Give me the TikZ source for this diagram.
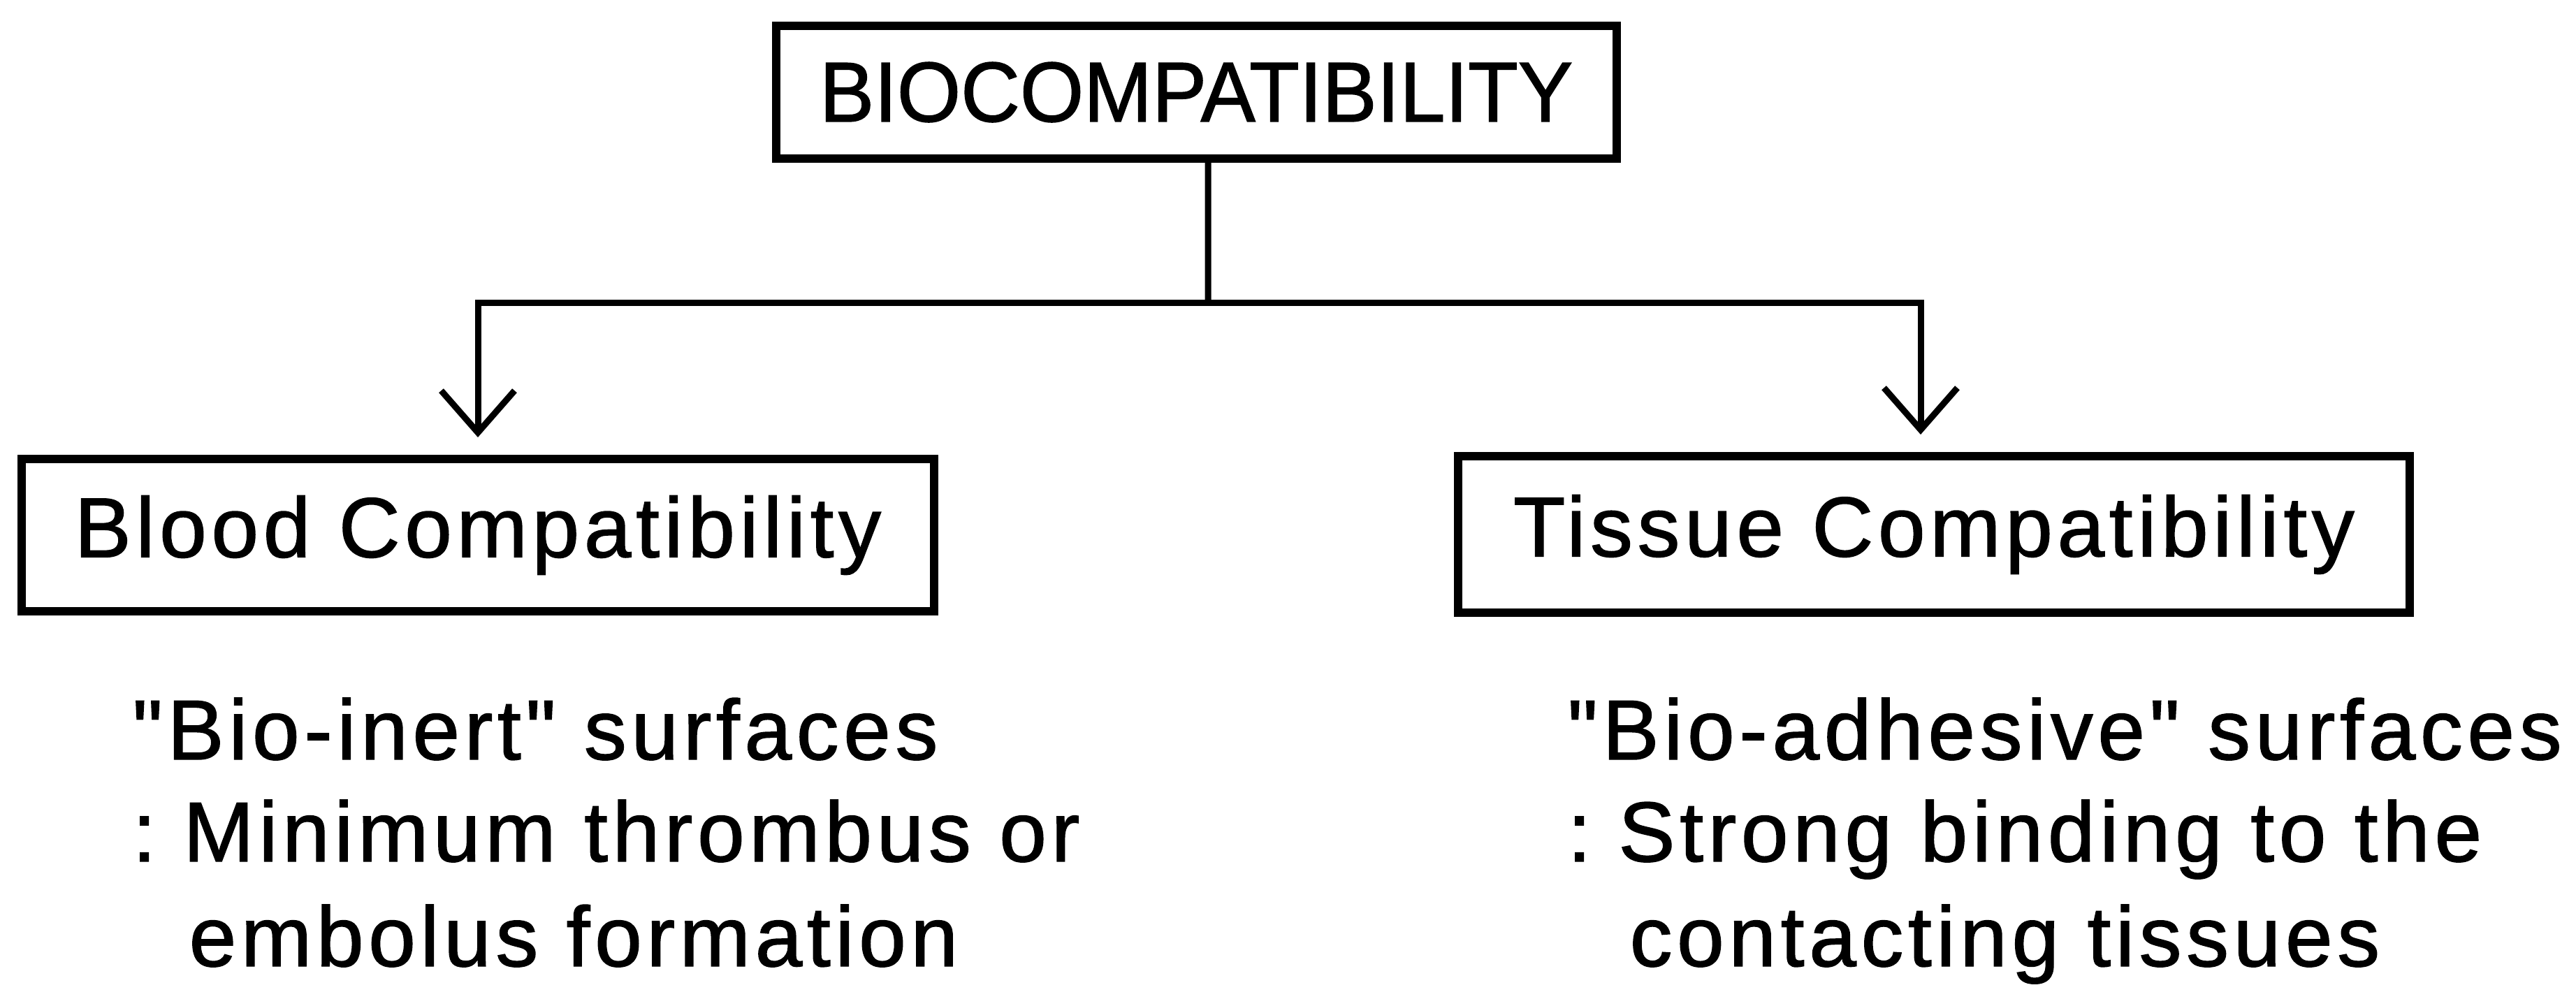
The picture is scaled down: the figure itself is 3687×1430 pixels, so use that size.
\documentclass[tikz,border=0pt]{standalone}
\usepackage{fontspec}
\setmainfont{Liberation Sans}
\newfontfamily\capsfont[FakeStretch=0.965,FakeBold=1.2]{Liberation Sans}
\newfontfamily\lowfont[LetterSpace=5.5,FakeBold=1.2]{Liberation Sans}
\usetikzlibrary{arrows.meta}
\begin{document}
\begin{tikzpicture}[x=0.1mm,y=-0.1mm,
  box/.style={draw,line width=1.2mm,inner sep=0pt,font=\lowfont\fontsize{34.6}{42}\selectfont},
  conn/.style={line width=0.9mm},
  arr/.style={conn,-{Straight Barb[length=6mm,width=10.5mm,line width=0.9mm]},shorten >=2.5mm},
  txt/.style={anchor=base west,inner sep=0pt,font=\lowfont\fontsize{34.6}{42}\selectfont}]
\useasboundingbox (0,0) rectangle (3687,1430);
\node[box,minimum width=120.3mm,minimum height=19mm,font=\capsfont\fontsize{34.6}{42}\selectfont] (top) at (1712,132) {BIOCOMPATIBILITY};
\node[box,minimum width=130.6mm,minimum height=21.8mm] (blood) at (684,766) {Blood Compatibility};
\node[box,minimum width=136.2mm,minimum height=22.4mm] (tissue) at (2768,765) {Tissue Compatibility};
\coordinate (j) at (1729,433);
\draw[conn] ([xshift=1.7mm]top.south) -- (j);
\draw[arr] (j) -| (blood.north);
\draw[arr] (j) -| ([xshift=-1.9mm]tissue.north);
\node[txt] (b1) at (189,1087) {"Bio-inert" surfaces};
\node[txt] (b2) at (189,1233) {:\kern-1.5mm{} Minimum thrombus or};
\node[txt] (b3) at (270,1383) {embolus formation};
\node[txt] (t1) at (2243,1087) {"Bio-adhesive" surfaces};
\node[txt] (t2) at (2243,1233) {:\kern-1.5mm{} Strong binding to the};
\node[txt] (t3) at (2332,1383) {contacting tissues};
\end{tikzpicture}
\end{document}
